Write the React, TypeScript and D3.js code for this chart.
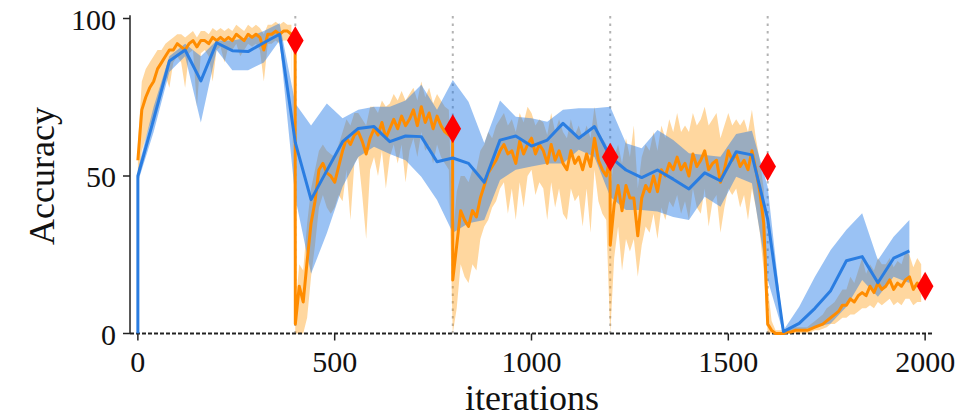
import React, { useRef, useEffect } from 'react';
import * as d3 from 'd3';

// blue run: evaluated every 40 iterations (first point is the jump from 0 to 50)
const blueIters = [0, 0, 40, 80, 120, 160, 200, 240, 280, 320, 360, 400, 440, 480, 520, 560, 600, 640, 680, 720, 760,
  800, 840, 880, 920, 960, 1000, 1040, 1080, 1120, 1160, 1200, 1240, 1280, 1320, 1360, 1400, 1440, 1480, 1520, 1560,
  1600, 1640, 1680, 1720, 1760, 1800, 1840, 1880, 1920, 1960];
const blueMean = [0, 50, 68, 86.5, 90, 80.2, 92.3, 89.8, 89.5, 92.3, 95, 60.6, 42.5, 51.7, 60.9, 65.1, 65.7, 60.9, 62.7, 62.5, 54.5,
  55.7, 54, 48, 61.4, 62.7, 59.5, 61.4, 66.7, 62, 65.7, 56.1, 51.9, 49.5, 51.9, 49, 45.9, 51, 48.5, 57.7, 56.7,
  36.3, 0.6, 3.2, 8, 13.6, 23.1, 24.4, 16.1, 23.9, 26.2];
const blueLow = [0, 48, 64, 83, 88, 67, 90, 83.6, 83.6, 86, 93, 43, 19, 31.8, 46.6, 56, 59.3, 57, 55, 49.8, 42.4,
  32, 35, 36, 48.7, 52, 53, 54, 54, 58.3, 56, 43.4, 39.2, 39.2, 38.7, 37, 36, 43.4, 40.2, 49.8, 47.7,
  17, 0, 1, 2, 3.2, 8.5, 17, 11.7, 18, 16];
const blueHigh = [0, 52, 72, 88, 92, 88, 93, 93, 94, 96, 98.5, 73, 66, 73, 68.3, 71, 72, 72, 74, 79, 71,
  80.5, 73.6, 60.5, 74, 68.8, 68.3, 67.2, 71, 71.5, 71.5, 72, 60.4, 58.8, 64.6, 61.4, 57.2, 56.7, 56.1, 63.3, 64.4,
  46.6, 1, 8.5, 18, 26.5, 32.9, 38.2, 23.3, 30.7, 36];

// orange run: logged every 10 iterations, 0..1990
const orangeMean = [
  55, 71, 75, 78, 80, 84, 86, 88, 90, 90,
  92, 91, 90, 92, 93, 91, 93, 93, 92, 94,
  93, 94, 93, 94, 93, 95, 94, 93, 95, 94,
  95, 94, 90, 95, 95, 96, 95, 96, 96, 95,
  3, 15, 10, 23, 35, 42, 52, 54, 51, 50,
  48, 53, 58, 62, 60, 63, 64, 61, 57, 62,
  65, 63, 67, 62, 65, 68, 65, 69, 66, 68,
  71, 66, 72, 67, 70, 65, 69, 66, 64, 63,
  17, 28, 39, 36, 34, 39, 37, 43, 47, 51,
  53, 55, 58, 60, 57, 58, 54, 61, 57, 60,
  62, 57, 60, 58, 54, 60, 55, 58, 54, 52,
  58, 54, 56, 52, 57, 53, 62, 55, 52, 50,
  28, 41, 47, 39, 47, 43, 43, 31, 43, 47,
  45, 50, 45, 52, 50, 54, 52, 56, 52, 54,
  50, 57, 53, 55, 58, 52, 54, 55, 48, 52,
  58, 55, 57, 53, 55, 52, 58, 52, 45, 35,
  3, 1, 0, 0, 0, 0.5, 0.5, 1, 1, 1,
  1, 1.5, 2, 2.5, 3, 4, 5, 6, 7, 9,
  9, 11, 10, 12, 13, 12, 15, 13, 16, 14,
  15, 17, 14, 16, 15, 17, 18, 14, 16, 15];
const orangeLow = [
  47, 58, 62, 66, 68, 74, 78, 82, 78, 86,
  88, 86, 78, 89, 90, 72, 89, 90, 88, 80,
  90, 91, 86, 91, 90, 92, 88, 90, 92, 91,
  92, 90, 80, 92, 92, 93, 92, 93, 93, 92,
  0, 0, 0, 5, 18, 28, 40, 44, 40, 38,
  40, 44, 42, 52, 36, 54, 56, 44, 30, 52,
  56, 50, 58, 46, 56, 60, 54, 60, 48, 58,
  62, 56, 64, 58, 60, 54, 60, 56, 54, 52,
  0, 8, 22, 18, 16, 22, 20, 30, 34, 36,
  40, 42, 46, 48, 38, 46, 36, 48, 40, 50,
  52, 44, 48, 46, 36, 48, 40, 46, 38, 36,
  46, 42, 44, 34, 46, 32, 52, 42, 38, 36,
  0, 24, 34, 20, 30, 26, 30, 18, 28, 34,
  32, 38, 30, 40, 36, 42, 40, 44, 38, 42,
  36, 46, 40, 38, 46, 34, 42, 44, 32, 40,
  46, 44, 46, 40, 44, 36, 46, 40, 32, 20,
  0, 0, 0, 0, 0, 0, 0, 0, 0, 0,
  0, 0.5, 1, 1, 1.5, 2, 3, 3, 4, 5,
  5, 6, 6, 7, 8, 8, 9, 8, 10, 9,
  10, 11, 9, 10, 9, 11, 11, 9, 10, 10];
const orangeHigh = [
  60, 80, 84, 86, 88, 90, 90, 92, 93, 94,
  95, 95, 94, 95, 96, 94, 96, 96, 95, 97,
  96, 97, 96, 97, 96, 98, 97, 96, 98, 97,
  98, 97, 95, 98, 98, 99, 98, 99, 98, 98,
  8, 22, 20, 35, 46, 52, 58, 60, 58, 57,
  56, 60, 64, 68, 66, 70, 70, 68, 66, 72,
  72, 70, 74, 72, 73, 76, 74, 77, 74, 76,
  78, 74, 80, 75, 78, 73, 76, 74, 72, 71,
  30, 45, 50, 50, 48, 52, 52, 58, 60, 64,
  62, 66, 68, 70, 66, 68, 64, 70, 67, 72,
  70, 66, 68, 67, 63, 70, 64, 68, 64, 62,
  68, 63, 66, 62, 66, 62, 72, 64, 62, 60,
  45, 56, 60, 54, 62, 56, 66, 46, 56, 60,
  58, 64, 58, 66, 62, 68, 64, 70, 64, 66,
  64, 70, 66, 68, 72, 66, 68, 70, 62, 66,
  70, 66, 68, 66, 68, 64, 71, 62, 55, 46,
  15, 4, 1, 1, 1, 1.5, 1.5, 2, 2, 2,
  2, 3, 4, 5, 6, 8, 9, 10, 12, 14,
  14, 18, 16, 20, 24, 19, 22, 20, 24, 22,
  22, 24, 21, 23, 22, 26, 25, 21, 24, 22];

// end of each task
const taskEnds = [400, 800, 1200, 1600, 2000];
const taskEndAcc = [93, 65, 56, 53, 15];
const suddenDrops = [400, 800, 1200];

const xTicks = [0, 500, 1000, 1500, 2000];
const yTicks = [0, 50, 100];

const serif = '"Liberation Serif", "DejaVu Serif", serif';

const App = () => {
  const ref = useRef<SVGSVGElement>(null);

  useEffect(() => {
    const svg = d3.select(ref.current);
    svg.selectAll('*').remove();

    const x = d3.scaleLinear().domain([-20, 2020]).range([130, 933]);
    const y = d3.scaleLinear().domain([0, 100]).range([333.5, 18.5]);

    const orangeIters = d3.range(0, 2000, 10);
    const orange = orangeIters.map((it, i) => ({ it, v: orangeMean[i], lo: orangeLow[i], hi: orangeHigh[i] }));
    // add the value just before each abrupt task switch so the drop is vertical
    const orangeLine = orange.concat(suddenDrops.map(t => ({
      it: t - 0.5, v: taskEndAcc[taskEnds.indexOf(t)], lo: 0, hi: 0
    }))).sort((a, b) => a.it - b.it);

    const blue = blueIters.map((it, i) => ({ it, v: blueMean[i], lo: blueLow[i], hi: blueHigh[i] }));

    // task boundaries
    svg.append('g')
      .selectAll('line')
      .data(taskEnds.slice(0, 4))
      .join('line')
      .attr('x1', d => x(d)).attr('x2', d => x(d))
      .attr('y1', y(0)).attr('y2', y(101))
      .attr('stroke', '#b3b3b3')
      .attr('stroke-width', 2)
      .attr('stroke-dasharray', '2.5,5');

    const area = d3.area<any>()
      .x(d => x(d.it))
      .y0(d => y(d.lo))
      .y1(d => y(d.hi));
    const line = d3.line<any>()
      .x(d => x(d.it))
      .y(d => y(d.v));

    svg.append('path')
      .datum(orange)
      .attr('d', area)
      .attr('fill', '#ff9a10')
      .attr('fill-opacity', 0.4);

    svg.append('path')
      .datum(blue)
      .attr('d', area)
      .attr('fill', '#1e78e6')
      .attr('fill-opacity', 0.45);

    // zero line
    svg.append('line')
      .attr('x1', 130).attr('x2', 933)
      .attr('y1', y(0)).attr('y2', y(0))
      .attr('stroke', '#222')
      .attr('stroke-width', 1.8)
      .attr('stroke-dasharray', '4,2');

    svg.append('path')
      .datum(orangeLine)
      .attr('d', line)
      .attr('fill', 'none')
      .attr('stroke', '#ff8c00')
      .attr('stroke-width', 3)
      .attr('stroke-linejoin', 'round');

    svg.append('path')
      .datum(blue)
      .attr('d', line)
      .attr('fill', 'none')
      .attr('stroke', '#2a7de1')
      .attr('stroke-width', 3)
      .attr('stroke-linejoin', 'round');

    svg.append('g')
      .selectAll('path')
      .data(taskEnds)
      .join('path')
      .attr('d', d3.symbol(d3.symbolDiamond, 240))
      .attr('transform', (d, i) => `translate(${x(d)},${y(taskEndAcc[i])})`)
      .attr('fill', '#ff0000');

    // left spine + ticks
    svg.append('line')
      .attr('x1', 130).attr('x2', 130)
      .attr('y1', y(0)).attr('y2', y(101))
      .attr('stroke', '#222')
      .attr('stroke-width', 1.5);

    const yAxis = svg.append('g')
      .attr('font-family', serif)
      .attr('font-size', 30)
      .attr('fill', '#111');
    yAxis.selectAll('line')
      .data(yTicks)
      .join('line')
      .attr('x1', 123).attr('x2', 130)
      .attr('y1', d => y(d)).attr('y2', d => y(d))
      .attr('stroke', '#222')
      .attr('stroke-width', 1.5);
    yAxis.selectAll('text')
      .data(yTicks)
      .join('text')
      .attr('x', 116)
      .attr('y', d => y(d) + 11)
      .attr('text-anchor', 'end')
      .text(d => d);

    const xAxis = svg.append('g')
      .attr('font-family', serif)
      .attr('font-size', 30)
      .attr('fill', '#111');
    xAxis.selectAll('line')
      .data(xTicks)
      .join('line')
      .attr('x1', d => x(d)).attr('x2', d => x(d))
      .attr('y1', y(0)).attr('y2', y(0) + 7)
      .attr('stroke', '#222')
      .attr('stroke-width', 1.5);
    xAxis.selectAll('text')
      .data(xTicks)
      .join('text')
      .attr('x', d => x(d))
      .attr('y', 372)
      .attr('text-anchor', 'middle')
      .text(d => d);

    svg.append('text')
      .attr('transform', 'translate(54,176) rotate(-90)')
      .attr('text-anchor', 'middle')
      .attr('font-family', serif)
      .attr('font-size', 36)
      .attr('fill', '#111')
      .text('Accuracy');

    svg.append('text')
      .attr('x', 532)
      .attr('y', 410)
      .attr('text-anchor', 'middle')
      .attr('font-family', serif)
      .attr('font-size', 36)
      .attr('fill', '#111')
      .text('iterations');

    return () => {
      svg.selectAll('*').remove();
    };
  }, []);

  return (
    <svg ref={ref} width={980} height={418}
      style={{ position: 'absolute', left: 0, top: 0, background: '#fff' }} />
  );
};

export default App;
